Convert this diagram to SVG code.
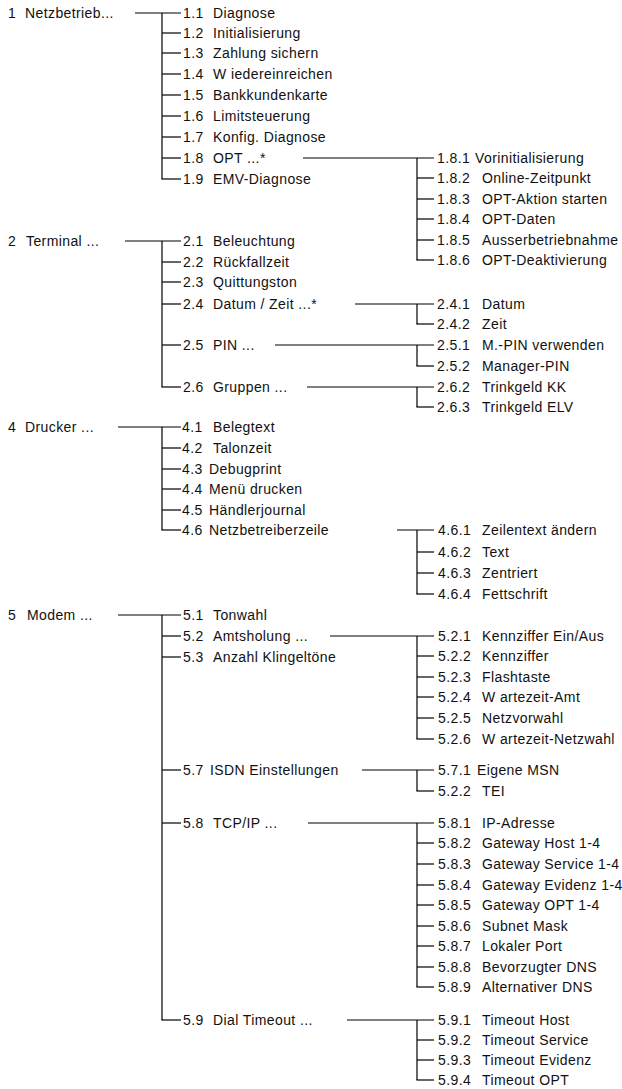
<svg xmlns="http://www.w3.org/2000/svg" width="622" height="1089" viewBox="0 0 622 1089">
<style>
text{font-family:"Liberation Sans",Arial,sans-serif;font-size:14px;letter-spacing:0.4px;fill:#111}
.c line{stroke:#000;stroke-width:1.2}
</style>
<rect width="622" height="1089" fill="#fff"/>
<g class="c" id="connectors">
<!-- section 1 -->
<line x1="135" y1="13" x2="181" y2="13"/>
<line x1="162" y1="13" x2="162" y2="179"/>
<line x1="162" y1="33" x2="181" y2="33"/>
<line x1="162" y1="53" x2="181" y2="53"/>
<line x1="162" y1="74" x2="181" y2="74"/>
<line x1="162" y1="95" x2="181" y2="95"/>
<line x1="162" y1="116" x2="181" y2="116"/>
<line x1="162" y1="137" x2="181" y2="137"/>
<line x1="162" y1="158" x2="181" y2="158"/>
<line x1="161.4" y1="179" x2="181" y2="179"/>
<line x1="303" y1="158" x2="434" y2="158"/>
<line x1="417" y1="158" x2="417" y2="260"/>
<line x1="417" y1="178" x2="434" y2="178"/>
<line x1="417" y1="199" x2="434" y2="199"/>
<line x1="417" y1="219" x2="434" y2="219"/>
<line x1="417" y1="240" x2="434" y2="240"/>
<line x1="416.4" y1="260" x2="434" y2="260"/>
<!-- section 2 -->
<line x1="125" y1="241" x2="181" y2="241"/>
<line x1="162" y1="241" x2="162" y2="387"/>
<line x1="162" y1="262" x2="181" y2="262"/>
<line x1="162" y1="282" x2="181" y2="282"/>
<line x1="162" y1="304" x2="181" y2="304"/>
<line x1="162" y1="345" x2="181" y2="345"/>
<line x1="161.4" y1="387" x2="181" y2="387"/>
<line x1="355" y1="304" x2="434" y2="304"/>
<line x1="417" y1="304" x2="417" y2="324"/>
<line x1="416.4" y1="324" x2="434" y2="324"/>
<line x1="275" y1="345" x2="434" y2="345"/>
<line x1="417" y1="345" x2="417" y2="366"/>
<line x1="416.4" y1="366" x2="434" y2="366"/>
<line x1="307" y1="387" x2="434" y2="387"/>
<line x1="417" y1="387" x2="417" y2="407"/>
<line x1="416.4" y1="407" x2="434" y2="407"/>
<!-- section 4 -->
<line x1="118" y1="427" x2="181" y2="427"/>
<line x1="162" y1="427" x2="162" y2="530"/>
<line x1="162" y1="448" x2="181" y2="448"/>
<line x1="162" y1="469" x2="181" y2="469"/>
<line x1="162" y1="489" x2="181" y2="489"/>
<line x1="162" y1="510" x2="181" y2="510"/>
<line x1="161.4" y1="530" x2="181" y2="530"/>
<line x1="397" y1="530" x2="434" y2="530"/>
<line x1="417" y1="530" x2="417" y2="594"/>
<line x1="417" y1="552" x2="434" y2="552"/>
<line x1="417" y1="573" x2="434" y2="573"/>
<line x1="416.4" y1="594" x2="434" y2="594"/>
<!-- section 5 -->
<line x1="118" y1="615" x2="181" y2="615"/>
<line x1="162" y1="615" x2="162" y2="1020"/>
<line x1="162" y1="636" x2="181" y2="636"/>
<line x1="162" y1="657" x2="181" y2="657"/>
<line x1="162" y1="770" x2="181" y2="770"/>
<line x1="162" y1="823" x2="181" y2="823"/>
<line x1="161.4" y1="1020" x2="181" y2="1020"/>
<line x1="330" y1="636" x2="434" y2="636"/>
<line x1="417" y1="636" x2="417" y2="739"/>
<line x1="417" y1="656" x2="434" y2="656"/>
<line x1="417" y1="677" x2="434" y2="677"/>
<line x1="417" y1="697" x2="434" y2="697"/>
<line x1="417" y1="718" x2="434" y2="718"/>
<line x1="416.4" y1="739" x2="434" y2="739"/>
<line x1="362" y1="770" x2="434" y2="770"/>
<line x1="417" y1="770" x2="417" y2="791"/>
<line x1="416.4" y1="791" x2="434" y2="791"/>
<line x1="308" y1="823" x2="434" y2="823"/>
<line x1="417" y1="823" x2="417" y2="987"/>
<line x1="417" y1="843" x2="434" y2="843"/>
<line x1="417" y1="864" x2="434" y2="864"/>
<line x1="417" y1="885" x2="434" y2="885"/>
<line x1="417" y1="905" x2="434" y2="905"/>
<line x1="417" y1="926" x2="434" y2="926"/>
<line x1="417" y1="946" x2="434" y2="946"/>
<line x1="417" y1="967" x2="434" y2="967"/>
<line x1="416.4" y1="987" x2="434" y2="987"/>
<line x1="347" y1="1020" x2="434" y2="1020"/>
<line x1="417" y1="1020" x2="417" y2="1080"/>
<line x1="417" y1="1040" x2="434" y2="1040"/>
<line x1="417" y1="1060" x2="434" y2="1060"/>
<line x1="416.4" y1="1080" x2="434" y2="1080"/>
</g>
<!-- section 1 nodes -->
<g id="n1"><text y="18"><tspan x="8">1</tspan><tspan x="25">Netzbetrieb...</tspan></text></g>
<g id="n1-1"><text y="18"><tspan x="183">1.1</tspan><tspan x="213">Diagnose</tspan></text></g>
<g id="n1-2"><text y="38"><tspan x="183">1.2</tspan><tspan x="213">Initialisierung</tspan></text></g>
<g id="n1-3"><text y="58"><tspan x="183">1.3</tspan><tspan x="213">Zahlung sichern</tspan></text></g>
<g id="n1-4"><text y="79"><tspan x="183">1.4</tspan><tspan x="213">W iedereinreichen</tspan></text></g>
<g id="n1-5"><text y="100"><tspan x="183">1.5</tspan><tspan x="213">Bankkundenkarte</tspan></text></g>
<g id="n1-6"><text y="121"><tspan x="183">1.6</tspan><tspan x="213">Limitsteuerung</tspan></text></g>
<g id="n1-7"><text y="142"><tspan x="183">1.7</tspan><tspan x="213">Konfig. Diagnose</tspan></text></g>
<g id="n1-8"><text y="163"><tspan x="183">1.8</tspan><tspan x="213">OPT ...*</tspan></text></g>
<g id="n1-9"><text y="184"><tspan x="183">1.9</tspan><tspan x="213">EMV-Diagnose</tspan></text></g>
<g id="n1-8-1"><text y="163"><tspan x="437">1.8.1</tspan><tspan x="475">Vorinitialisierung</tspan></text></g>
<g id="n1-8-2"><text y="183"><tspan x="437">1.8.2</tspan><tspan x="482">Online-Zeitpunkt</tspan></text></g>
<g id="n1-8-3"><text y="204"><tspan x="437">1.8.3</tspan><tspan x="482">OPT-Aktion starten</tspan></text></g>
<g id="n1-8-4"><text y="224"><tspan x="437">1.8.4</tspan><tspan x="482">OPT-Daten</tspan></text></g>
<g id="n1-8-5"><text y="245"><tspan x="437">1.8.5</tspan><tspan x="482">Ausserbetriebnahme</tspan></text></g>
<g id="n1-8-6"><text y="265"><tspan x="437">1.8.6</tspan><tspan x="482">OPT-Deaktivierung</tspan></text></g>
<!-- section 2 nodes -->
<g id="n2"><text y="246"><tspan x="8">2</tspan><tspan x="26">Terminal ...</tspan></text></g>
<g id="n2-1"><text y="246"><tspan x="183">2.1</tspan><tspan x="213">Beleuchtung</tspan></text></g>
<g id="n2-2"><text y="267"><tspan x="183">2.2</tspan><tspan x="213">Rückfallzeit</tspan></text></g>
<g id="n2-3"><text y="287"><tspan x="183">2.3</tspan><tspan x="213">Quittungston</tspan></text></g>
<g id="n2-4"><text y="309"><tspan x="183">2.4</tspan><tspan x="213">Datum / Zeit ...*</tspan></text></g>
<g id="n2-5"><text y="350"><tspan x="183">2.5</tspan><tspan x="213">PIN ...</tspan></text></g>
<g id="n2-6"><text y="392"><tspan x="183">2.6</tspan><tspan x="213">Gruppen ...</tspan></text></g>
<g id="n2-4-1"><text y="309"><tspan x="437">2.4.1</tspan><tspan x="482">Datum</tspan></text></g>
<g id="n2-4-2"><text y="329"><tspan x="437">2.4.2</tspan><tspan x="482">Zeit</tspan></text></g>
<g id="n2-5-1"><text y="350"><tspan x="437">2.5.1</tspan><tspan x="482">M.-PIN verwenden</tspan></text></g>
<g id="n2-5-2"><text y="371"><tspan x="437">2.5.2</tspan><tspan x="482">Manager-PIN</tspan></text></g>
<g id="n2-6-2"><text y="392"><tspan x="437">2.6.2</tspan><tspan x="482">Trinkgeld KK</tspan></text></g>
<g id="n2-6-3"><text y="412"><tspan x="437">2.6.3</tspan><tspan x="482">Trinkgeld ELV</tspan></text></g>
<!-- section 4 nodes -->
<g id="n4"><text y="432"><tspan x="8">4</tspan><tspan x="25">Drucker ...</tspan></text></g>
<g id="n4-1"><text y="432"><tspan x="182">4.1</tspan><tspan x="213">Belegtext</tspan></text></g>
<g id="n4-2"><text y="453"><tspan x="182">4.2</tspan><tspan x="213">Talonzeit</tspan></text></g>
<g id="n4-3"><text y="474"><tspan x="182">4.3</tspan><tspan x="209">Debugprint</tspan></text></g>
<g id="n4-4"><text y="494"><tspan x="182">4.4</tspan><tspan x="209">Menü drucken</tspan></text></g>
<g id="n4-5"><text y="515"><tspan x="182">4.5</tspan><tspan x="209">Händlerjournal</tspan></text></g>
<g id="n4-6"><text y="535"><tspan x="182">4.6</tspan><tspan x="209">Netzbetreiberzeile</tspan></text></g>
<g id="n4-6-1"><text y="535"><tspan x="438">4.6.1</tspan><tspan x="482">Zeilentext ändern</tspan></text></g>
<g id="n4-6-2"><text y="557"><tspan x="438">4.6.2</tspan><tspan x="482">Text</tspan></text></g>
<g id="n4-6-3"><text y="578"><tspan x="438">4.6.3</tspan><tspan x="482">Zentriert</tspan></text></g>
<g id="n4-6-4"><text y="599"><tspan x="438">4.6.4</tspan><tspan x="482">Fettschrift</tspan></text></g>
<!-- section 5 nodes -->
<g id="n5"><text y="620"><tspan x="8">5</tspan><tspan x="27">Modem ...</tspan></text></g>
<g id="n5-1"><text y="620"><tspan x="183">5.1</tspan><tspan x="213">Tonwahl</tspan></text></g>
<g id="n5-2"><text y="641"><tspan x="183">5.2</tspan><tspan x="213">Amtsholung ...</tspan></text></g>
<g id="n5-3"><text y="662"><tspan x="183">5.3</tspan><tspan x="213">Anzahl Klingeltöne</tspan></text></g>
<g id="n5-7"><text y="775"><tspan x="183">5.7</tspan><tspan x="210">ISDN Einstellungen</tspan></text></g>
<g id="n5-8"><text y="828"><tspan x="183">5.8</tspan><tspan x="213">TCP/IP ...</tspan></text></g>
<g id="n5-9"><text y="1025"><tspan x="183">5.9</tspan><tspan x="213">Dial Timeout ...</tspan></text></g>
<g id="n5-2-1"><text y="641"><tspan x="438">5.2.1</tspan><tspan x="482">Kennziffer Ein/Aus</tspan></text></g>
<g id="n5-2-2"><text y="661"><tspan x="438">5.2.2</tspan><tspan x="482">Kennziffer</tspan></text></g>
<g id="n5-2-3"><text y="682"><tspan x="438">5.2.3</tspan><tspan x="482">Flashtaste</tspan></text></g>
<g id="n5-2-4"><text y="702"><tspan x="438">5.2.4</tspan><tspan x="482">W artezeit-Amt</tspan></text></g>
<g id="n5-2-5"><text y="723"><tspan x="438">5.2.5</tspan><tspan x="482">Netzvorwahl</tspan></text></g>
<g id="n5-2-6"><text y="744"><tspan x="438">5.2.6</tspan><tspan x="482">W artezeit-Netzwahl</tspan></text></g>
<g id="n5-7-1"><text y="775"><tspan x="438">5.7.1</tspan><tspan x="477">Eigene MSN</tspan></text></g>
<g id="n5-7-2"><text y="796"><tspan x="438">5.2.2</tspan><tspan x="482">TEI</tspan></text></g>
<g id="n5-8-1"><text y="828"><tspan x="438">5.8.1</tspan><tspan x="482">IP-Adresse</tspan></text></g>
<g id="n5-8-2"><text y="848"><tspan x="438">5.8.2</tspan><tspan x="482">Gateway Host 1-4</tspan></text></g>
<g id="n5-8-3"><text y="869"><tspan x="438">5.8.3</tspan><tspan x="482">Gateway Service 1-4</tspan></text></g>
<g id="n5-8-4"><text y="890"><tspan x="438">5.8.4</tspan><tspan x="482">Gateway Evidenz 1-4</tspan></text></g>
<g id="n5-8-5"><text y="910"><tspan x="438">5.8.5</tspan><tspan x="482">Gateway OPT 1-4</tspan></text></g>
<g id="n5-8-6"><text y="931"><tspan x="438">5.8.6</tspan><tspan x="482">Subnet Mask</tspan></text></g>
<g id="n5-8-7"><text y="951"><tspan x="438">5.8.7</tspan><tspan x="482">Lokaler Port</tspan></text></g>
<g id="n5-8-8"><text y="972"><tspan x="438">5.8.8</tspan><tspan x="482">Bevorzugter DNS</tspan></text></g>
<g id="n5-8-9"><text y="992"><tspan x="438">5.8.9</tspan><tspan x="482">Alternativer DNS</tspan></text></g>
<g id="n5-9-1"><text y="1025"><tspan x="438">5.9.1</tspan><tspan x="482">Timeout Host</tspan></text></g>
<g id="n5-9-2"><text y="1045"><tspan x="438">5.9.2</tspan><tspan x="482">Timeout Service</tspan></text></g>
<g id="n5-9-3"><text y="1065"><tspan x="438">5.9.3</tspan><tspan x="482">Timeout Evidenz</tspan></text></g>
<g id="n5-9-4"><text y="1085"><tspan x="438">5.9.4</tspan><tspan x="482">Timeout OPT</tspan></text></g>
</svg>
